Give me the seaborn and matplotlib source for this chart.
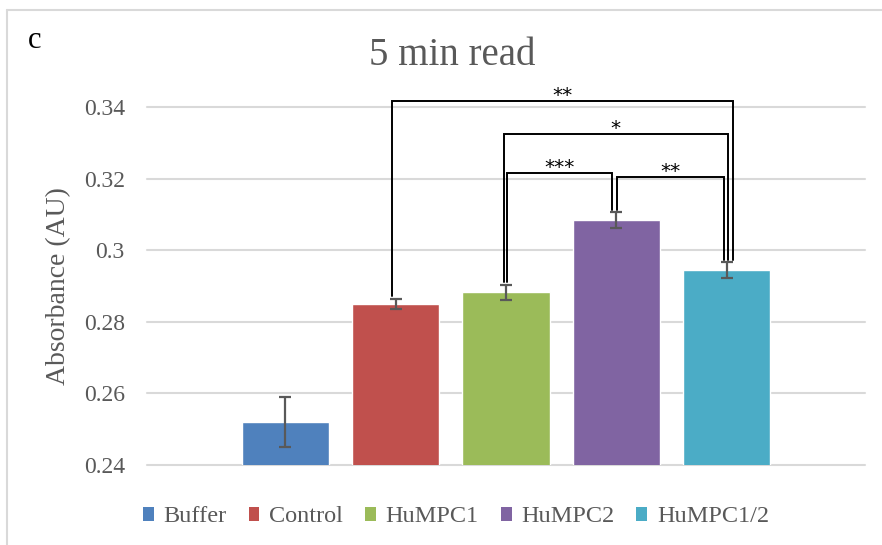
import matplotlib
matplotlib.use("Agg")
import matplotlib.pyplot as plt
from matplotlib.patches import Patch
from matplotlib.lines import Line2D
import seaborn as sns
import pandas as pd

groups = ["Buffer", "Control", "HuMPC1", "HuMPC2", "HuMPC1/2"]
means = [0.2520, 0.2850, 0.2883, 0.3084, 0.2945]
errs = [0.0070, 0.0014, 0.0021, 0.0022, 0.0022]
colors = ["#4F81BD", "#C0504D", "#9BBB59", "#8064A2", "#4BACC6"]
yticks = [0.24, 0.26, 0.28, 0.30, 0.32, 0.34]
ytick_labels = ["0.24", "0.26", "0.28", "0.3", "0.32", "0.34"]
# significance brackets: (left group, right group, bracket level, label, left dx, right dx)
brackets = [
    (1, 4, 0.3418, "**", -0.03, 0.06),
    (2, 4, 0.3325, "*", -0.02, 0.01),
    (2, 3, 0.3215, "***", 0.01, -0.04),
    (3, 4, 0.3205, "**", 0.01, -0.02),
]

sns.set_theme(style="white")
plt.rcParams["font.family"] = ["Liberation Serif", "DejaVu Serif"]

W, H = 882, 545
fig = plt.figure(figsize=(W / 100, H / 100), dpi=100)
ax = fig.add_axes([147 / W, 1 - 465 / H, (865 - 147) / W, (465 - 107) / H])

df = pd.DataFrame({"group": groups, "mean": means})
sns.barplot(data=df, x="group", y="mean", hue="group", palette=colors,
            order=groups, hue_order=groups, width=0.79, errorbar=None,
            legend=False, ax=ax, saturation=1, zorder=2)
ax.errorbar(range(len(groups)), means, yerr=errs, fmt="none",
            ecolor="#595959", elinewidth=1.6, capsize=4.5, capthick=1.6, zorder=3)

ax.set_xlim(-1.255, 5.255)
ax.set_ylim(0.24, 0.34)
ax.set_yticks(yticks)
ax.set_yticklabels(ytick_labels)
ax.set_xticks([])
ax.set_xlabel("")
ax.tick_params(axis="y", length=0, pad=16, labelsize=17, labelcolor="#595959")
for s in ax.spines.values():
    s.set_visible(False)
for yv in yticks:
    ax.axhline(yv, color="#D9D9D9", lw=1.5, zorder=0, clip_on=False)
ax.set_ylabel("Absorbance (AU)", fontsize=20, color="#595959")
ax.yaxis.set_label_coords(-0.106, 0.5)

# significance brackets
for i, j, level, lab, dxi, dxj in brackets:
    xi, xj = i + dxi, j + dxj
    yi = means[i] + errs[i] + 0.0007
    yj = means[j] + errs[j] + 0.0007
    ax.plot([xi, xi, xj, xj], [yi, level, level, yj], color="black",
            lw=1.4, clip_on=False, zorder=4, solid_joinstyle="miter")
    ax.text((xi + xj) / 2, level + 0.0015, lab, ha="center", va="center",
            fontsize=14.5, color="black", family=["DejaVu Sans"])

fig.text(452 / W, 1 - 55 / H, "5 min read", ha="center", va="center",
         fontsize=28, color="#595959")
fig.text(28 / W, 1 - 41 / H, "c", ha="left", va="center", fontsize=22,
         color="black")

handles = [Patch(facecolor=c, edgecolor="none") for c in colors]
fig.legend(handles, groups, loc="center", bbox_to_anchor=(456 / W, 1 - 517 / H),
           ncol=5, frameon=False, fontsize=17.5, handlelength=0.45,
           handleheight=0.55, handletextpad=0.4, columnspacing=0.9,
           labelcolor="#595959")

# outer chart border (left and top only visible)
fig.add_artist(Line2D([7 / W, 7 / W], [0, 1 - 10 / H], color="#D9D9D9", lw=1.5,
                      transform=fig.transFigure))
fig.add_artist(Line2D([7 / W, 1], [1 - 10 / H, 1 - 10 / H], color="#D9D9D9",
                      lw=1.5, transform=fig.transFigure))

fig.savefig("out.png", dpi=100)
